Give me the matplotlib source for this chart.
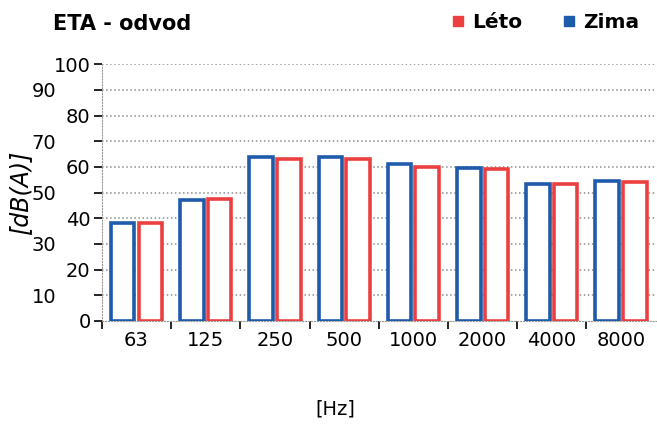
import numpy as np
import matplotlib.pyplot as plt
from matplotlib.lines import Line2D

freqs = ['63', '125', '250', '500', '1000', '2000', '4000', '8000']
zima = [38.3, 47.3, 64.0, 64.0, 61.0, 59.5, 53.3, 54.6]
leto = [38.3, 47.6, 63.1, 63.1, 60.1, 59.2, 53.2, 54.0]

blue = '#1f5bab'
red = '#ec4040'

fig = plt.figure(figsize=(6.57, 4.28), dpi=100)
ax = fig.add_axes([0.155, 0.25, 0.843, 0.6])

x = np.arange(len(freqs))
w = 0.34
ax.bar(x - 0.2, zima, w, facecolor='white', edgecolor=blue, linewidth=2.6, zorder=3)
ax.bar(x + 0.2, leto, w, facecolor='white', edgecolor=red, linewidth=2.6, zorder=3)

ax.set_xlim(-0.5, len(freqs) - 0.5)
ax.set_ylim(0, 100)

# category labels centred, tick dashes on the boundaries
ax.set_xticks(x)
ax.set_xticklabels(freqs, fontsize=14)
ax.tick_params(axis='x', which='major', length=0, pad=7)
ax.set_xticks(np.arange(len(freqs)) - 0.5, minor=True)
ax.tick_params(axis='x', which='minor', length=6, width=1.2, color='black')

ax.set_yticks(range(0, 101, 20))
ax.set_yticks(range(10, 100, 20), minor=True)
ax.set_yticklabels([str(v) for v in range(0, 101, 20)], fontsize=14)
ax.set_yticklabels([str(v) for v in range(10, 100, 20)], minor=True, fontsize=14)
ax.tick_params(axis='y', which='major', length=6, width=1.2, pad=2)
ax.tick_params(axis='y', which='minor', length=6, width=1.2, pad=27)

for v in range(10, 101, 10):
    ax.axhline(v, color='#8c8c8c', linestyle=':', linewidth=1.1, zorder=1)

for s in ['top', 'right']:
    ax.spines[s].set_visible(False)
for s in ['left', 'bottom']:
    ax.spines[s].set_color('#999999')
    ax.spines[s].set_linestyle(':')

ax.set_ylabel('[dB(A)]', fontsize=17, style='italic')
ax.yaxis.set_label_coords(-0.125, 0.5)

fig.text(0.08, 0.945, 'ETA - odvod', fontsize=15, fontweight='bold', va='center')
fig.text(0.51, 0.045, '[Hz]', fontsize=14, ha='center', va='center')

handles = [Line2D([], [], marker='s', color=red, linestyle='', markersize=7),
           Line2D([], [], marker='s', color=blue, linestyle='', markersize=7)]
fig.legend(handles, ['Léto', 'Zima'], loc='center right', bbox_to_anchor=(1.0, 0.948),
           ncol=2, frameon=False, handlelength=0.6, handletextpad=0.4, columnspacing=2.0,
           prop={'size': 14.5, 'weight': 'bold'})

fig.savefig('out.png', dpi=100)
